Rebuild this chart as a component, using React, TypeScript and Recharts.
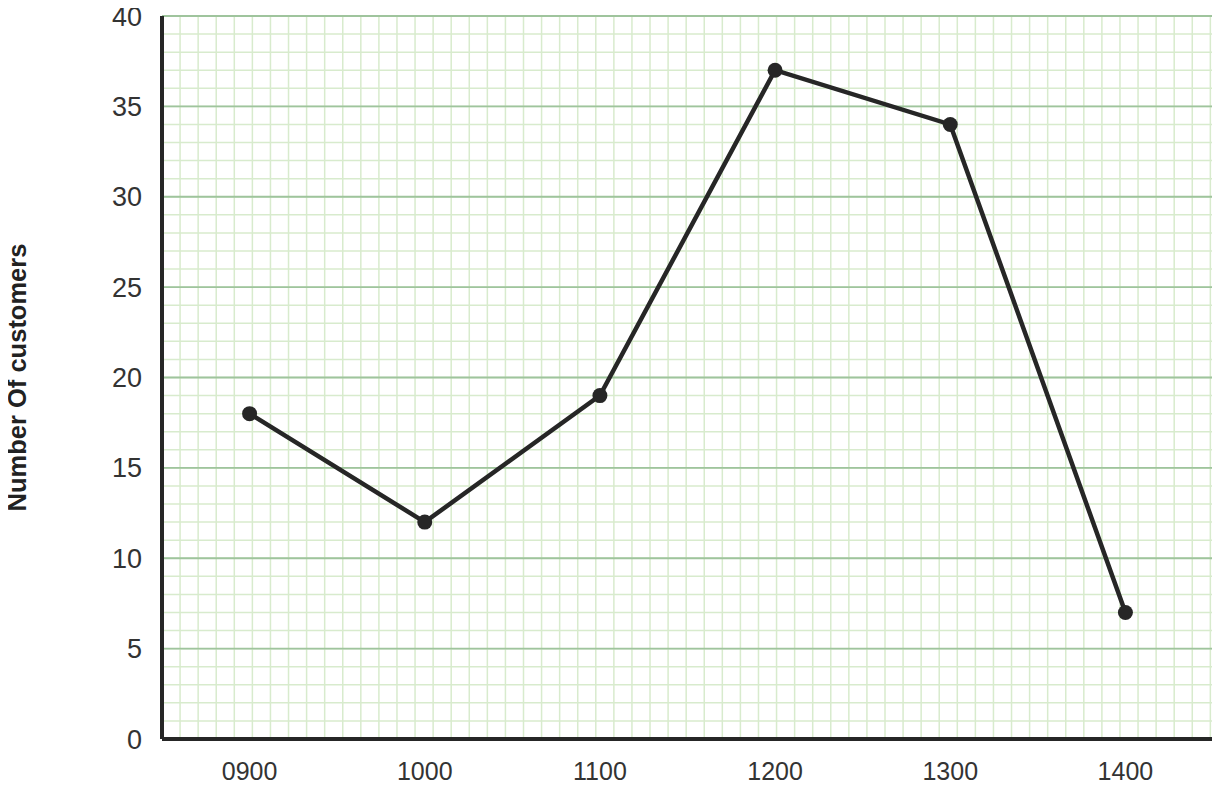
import { LineChart, Line, XAxis, YAxis, CartesianGrid, Label } from 'recharts';

const times = ['0900', '1000', '1100', '1200', '1300', '1400'];
const customers = [18, 12, 19, 37, 34, 7];
const yTicks = [0, 5, 10, 15, 20, 25, 30, 35, 40];

const data = times.map((time, i) => ({ time, customers: customers[i] }));

const FONT = '"Liberation Sans", Arial, sans-serif';
const INK = '#262626';
const Y_MAX = 40;

// graph-paper grid: one small square per customer, vertical spacing matched to it
const minorRows = ({ offset }: any) => {
  const out: number[] = [];
  for (let i = 0; i <= Y_MAX; i++) out.push(offset.top + (offset.height * i) / Y_MAX);
  return out;
};

const minorCols = ({ offset }: any) => {
  const step = offset.height / Y_MAX;
  const out: number[] = [];
  for (let x = offset.left; x <= offset.left + offset.width + 0.5; x += step) out.push(x);
  return out;
};

const majorRows = ({ offset }: any) => {
  const out: number[] = [];
  for (let i = 0; i <= Y_MAX; i += 5) out.push(offset.top + (offset.height * i) / Y_MAX);
  return out;
};

export default function App() {
  return (
    // cancel the default body margin so the svg fills the whole window
    <div style={{ fontFamily: FONT, margin: '-8px 0 0 -8px' }}>
      <LineChart
        width={1220}
        height={786}
        data={data}
        margin={{ top: 16, right: 7, left: 0, bottom: 0 }}
      >
        <CartesianGrid
          stroke="#d8ebcd"
          strokeWidth={1.5}
          horizontalCoordinatesGenerator={minorRows}
          verticalCoordinatesGenerator={minorCols}
        />
        <CartesianGrid
          stroke="#9fc49d"
          strokeWidth={1.8}
          vertical={false}
          horizontalCoordinatesGenerator={majorRows}
        />
        <XAxis
          dataKey="time"
          scale="band"
          height={47}
          axisLine={{ stroke: INK, strokeWidth: 4 }}
          tickLine={false}
          tickSize={0}
          tickMargin={23}
          tick={{ fontSize: 25, fill: '#333', fontFamily: FONT }}
        />
        <YAxis
          width={162}
          domain={[0, Y_MAX]}
          ticks={yTicks}
          interval={0}
          axisLine={{ stroke: INK, strokeWidth: 4 }}
          tickLine={false}
          tickSize={0}
          tickMargin={20}
          tick={{ fontSize: 27, fill: '#333', fontFamily: FONT }}
        >
          <Label
            content={({ viewBox }: any) => {
              const cy = viewBox.y + viewBox.height / 2;
              return (
                <text
                  x={26}
                  y={cy}
                  transform={`rotate(-90, 26, ${cy})`}
                  textAnchor="middle"
                  fontSize={25.5}
                  fontWeight="bold"
                  fill="#222"
                  fontFamily={FONT}
                >
                  Number Of customers
                </text>
              );
            }}
          />
        </YAxis>
        <Line
          type="linear"
          dataKey="customers"
          stroke={INK}
          strokeWidth={4.5}
          dot={{ r: 7.5, fill: INK, stroke: 'none' }}
          activeDot={false}
          isAnimationActive={false}
        />
      </LineChart>
    </div>
  );
}
